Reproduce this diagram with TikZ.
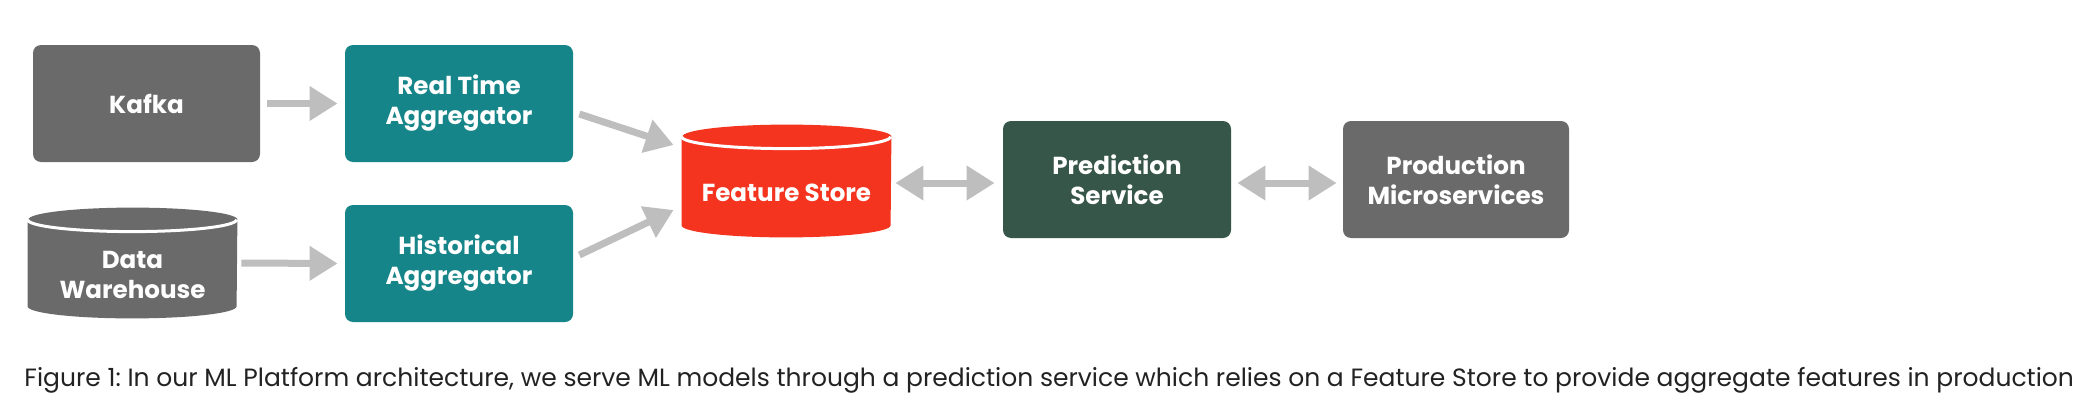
\documentclass[tikz,border=0pt]{standalone}
\usepackage{fontspec}
\setmainfont{Poppins}
\usetikzlibrary{arrows.meta,calc}
\definecolor{boxgray}{HTML}{6A6A6A}
\definecolor{aggteal}{HTML}{168589}
\definecolor{fsred}{HTML}{F5341F}
\definecolor{psgreen}{HTML}{37564A}
\definecolor{arrowgray}{HTML}{BEBEBE}
\definecolor{captext}{HTML}{222222}
\pgfdeclarelayer{back}
\pgfdeclarelayer{mid}
\pgfsetlayers{back,mid,main}
\frenchspacing
\begin{document}
\begin{tikzpicture}[x=0.5pt,y=-0.5pt,
  boxtext/.style={inner sep=0pt, align=center, text=white, font=\bfseries\fontsize{12.3}{15}\selectfont},
  box/.style={boxtext, rounded corners=4pt, fill=#1},
  cyl/.style={boxtext},
  conn/.style={draw=arrowgray, line width=3.5pt, -{Triangle[length=14pt,width=16.5pt]}},
  bconn/.style={draw=arrowgray, line width=3.5pt, {Triangle[length=14pt,width=16.5pt]}-{Triangle[length=14pt,width=16.5pt]}},
  capfont/.style={inner sep=0pt, text=captext, font=\fontsize{12.5}{15}\selectfont}
]
\begin{pgfonlayer}{back}
\fill[white] (0,0) rectangle (2084,418);
\end{pgfonlayer}
\useasboundingbox (0,0) rectangle (2084,418);

\node[box=boxgray, minimum width=113.5pt, minimum height=58.5pt] (kafka) at (146.5,103.5) {Kafka};
\node[box=aggteal, minimum width=114pt, minimum height=58.5pt] (rta) at (459,103.5) {Real Time\\Aggregator};
\node[box=aggteal, minimum width=114pt, minimum height=58.5pt] (ha) at (459,263.5) {Historical\\Aggregator};
% cylinder nodes cover the body below the top cap
\node[cyl, minimum width=104.5pt, minimum height=43pt] (dw) at (132.5,275) {Data\\Warehouse};
\node[cyl, minimum width=104.5pt, minimum height=44pt] (fs) at (786.5,193) {Feature Store};
\node[box=psgreen, minimum width=114pt, minimum height=58.5pt] (ps) at (1117,179.5) {Prediction\\Service};
\node[box=boxgray, minimum width=113pt, minimum height=58.5pt] (pm) at (1456,179.5) {Production\\Microservices};

\begin{pgfonlayer}{mid}
\foreach \n/\c in {dw/boxgray,fs/fsred}{
  \fill[\c] ($(\n.north west)+(0,-12)$) -- ($(\n.south west)+(0,-12)$)
    arc[start angle=180,end angle=360,x radius=52.25pt,y radius=6pt]
    -- ($(\n.north east)+(0,-12)$)
    arc[start angle=0,end angle=180,x radius=52.25pt,y radius=6pt] -- cycle;
  \draw[white, line width=1.5pt] ($(\n.north west)+(0,-12)$)
    arc[start angle=180,end angle=360,x radius=52.25pt,y radius=6pt];
}
\end{pgfonlayer}

\draw[conn] ($(kafka.east)+(7,0)$) -- ($(rta.west)+(-7,0)$);
\draw[conn] ($(dw.east)+(4,-12)$) -- ($(ha.west)+(-7,0)$);
\draw[conn] ($(rta.east)+(6,10.5)$) -- ($(fs.west)+(-8,-48)$);
\draw[conn] ($(ha.east)+(6,-8.5)$) -- ($(fs.west)+(-8,17)$);
\draw[bconn] ($(fs.east)+(4,-10)$) -- ($(ps.west)+(-8,3.5)$);
\draw[bconn] ($(ps.east)+(6,3.5)$) -- ($(pm.west)+(-6,3.5)$);

\node[capfont, anchor=base west] (cap) at (24,386) {Figure 1: In our ML Platform architecture, we serve ML models through a prediction service which relies on a Feature Store to provide aggregate features in production};
\end{tikzpicture}
\end{document}
